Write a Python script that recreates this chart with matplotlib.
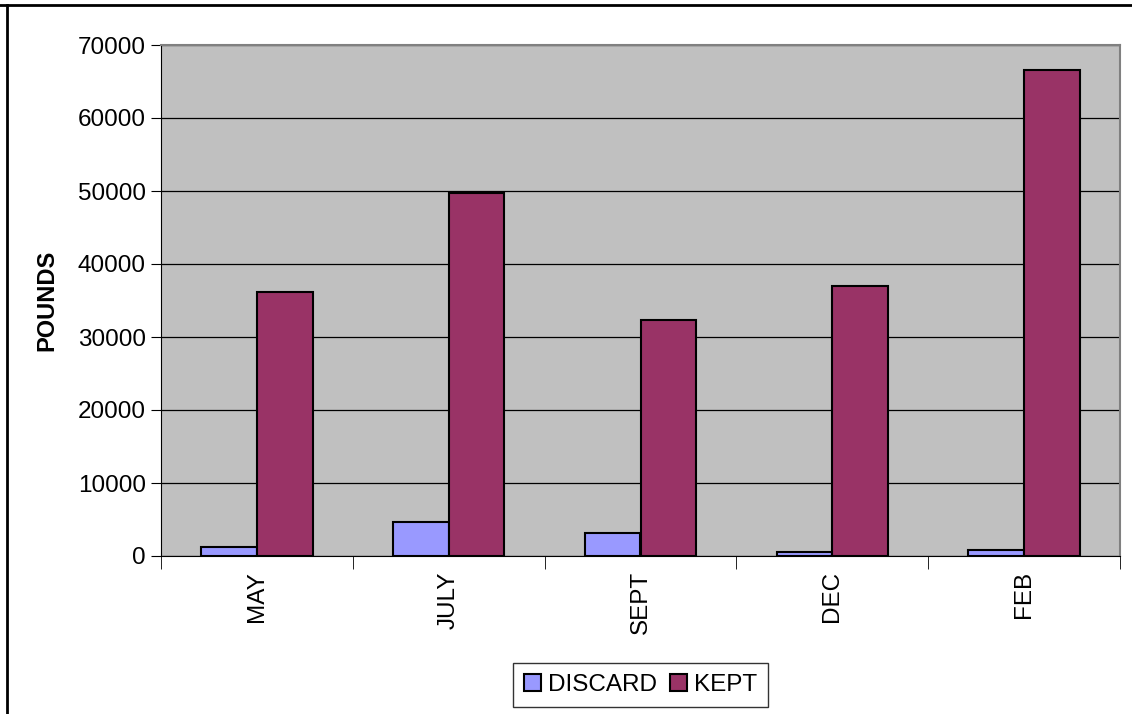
import numpy as np
import matplotlib.pyplot as plt
from matplotlib.lines import Line2D

months = ["MAY", "JULY", "SEPT", "DEC", "FEB"]
discard = [1300, 4700, 3200, 600, 800]
kept = [36200, 49700, 32300, 37000, 66600]

plt.rcParams['font.family'] = ['Liberation Sans', 'DejaVu Sans']

fig = plt.figure(figsize=(11.32, 7.14), dpi=100)
ax = fig.add_axes([161/1132, 1-556/714, (1120-161)/1132, (556-45)/714])
ax.set_facecolor("#C0C0C0")

x = np.arange(len(months))
w = 0.29
ax.bar(x - w/2, discard, w, color="#9999FF", edgecolor="black", linewidth=1.5, label="DISCARD", zorder=3)
ax.bar(x + w/2, kept, w, color="#993366", edgecolor="black", linewidth=1.5, label="KEPT", zorder=3)

ax.set_xlim(-0.5, len(months) - 0.5)
ax.set_ylim(0, 70000)
ax.set_yticks(range(0, 70001, 10000))
ax.tick_params(axis='y', labelsize=17.5, length=7, direction='out', pad=4)
ax.yaxis.grid(True, color="black", linewidth=0.9, zorder=1)

# category labels at centers, ticks at boundaries
ax.set_xticks(x)
ax.set_xticklabels(months, rotation=90, fontsize=17.5)
ax.tick_params(axis='x', which='major', length=0, pad=11)
ax.set_xticks(np.arange(len(months) + 1) - 0.5, minor=True)
ax.tick_params(axis='x', which='minor', length=9, color="black")

for s in ["top", "right"]:
    ax.spines[s].set_color("#808080")
    ax.spines[s].set_linewidth(1.5)
ax.spines["left"].set_color("black")
ax.spines["bottom"].set_color("black")

ax.set_ylabel("POUNDS", fontsize=17, fontweight="bold")
ax.yaxis.set_label_coords(-0.1075, 0.5)

leg = ax.legend(loc="upper center", bbox_to_anchor=(0.5, -0.2094), ncol=2, fontsize=17.5,
                frameon=True, fancybox=False, edgecolor="black", handlelength=0.7,
                handleheight=0.7, handletextpad=0.3, columnspacing=0.5, borderpad=0.45,
                borderaxespad=0)
leg.get_frame().set_linewidth(1.0)

# outer chart frame (top and left edges visible)
fig.add_artist(Line2D([0, 1], [1-5/714, 1-5/714], color="black", linewidth=2, transform=fig.transFigure))
fig.add_artist(Line2D([7/1132, 7/1132], [0, 1-5/714], color="black", linewidth=2, transform=fig.transFigure))

fig.savefig("out.png", dpi=100)
